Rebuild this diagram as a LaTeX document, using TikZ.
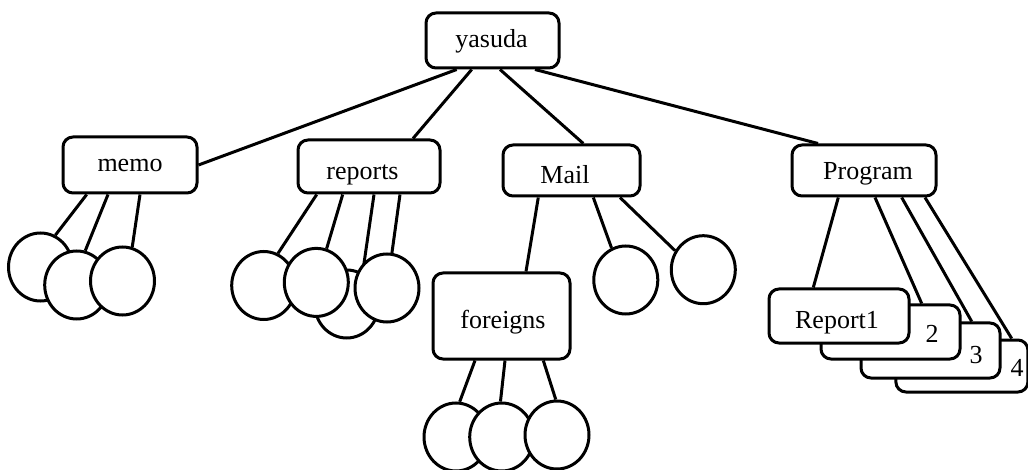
\documentclass[tikz,border=0pt]{standalone}
\usepackage{fontspec}
\setmainfont{Liberation Serif}
\usetikzlibrary{backgrounds,shapes.geometric}
\begin{document}
\begin{tikzpicture}[x=1pt,y=-1pt,
  box/.style={draw,line width=3pt,rounded corners=10pt,fill=white,inner sep=0pt},
  leaf/.style={draw,line width=3pt,ellipse,fill=white,inner sep=0pt,minimum width=64pt,minimum height=68pt},
  conn/.style={line width=3pt},
  txt/.style={inner sep=0pt,anchor=base,font=\fontsize{26}{30}\selectfont}]
\useasboundingbox (0,0) rectangle (1028,470);

% boxes
\node[box,minimum width=133pt,minimum height=55pt] (yasuda) at (492.5,40.5) {};
\node[txt] (yasuda-t) at (491.5,47.5) {yasuda};
\node[box,minimum width=134pt,minimum height=56pt] (memo) at (130,165) {};
\node[txt] (memo-t) at (130,171.7) {memo};
\node[box,minimum width=142pt,minimum height=53pt] (reports) at (369,166.5) {};
\node[txt] (reports-t) at (362.5,180) {reports};
\node[box,minimum width=137pt,minimum height=51pt] (mail) at (571.5,170.5) {};
\node[txt] (mail-t) at (565,184) {Mail};
\node[box,minimum width=144pt,minimum height=51pt] (program) at (864,170.5) {};
\node[txt] (program-t) at (868,179.3) {Program};
\node[box,minimum width=137pt,minimum height=86pt] (foreigns) at (501.5,316) {};
\node[txt] (foreigns-t) at (503,328.3) {foreigns};

% report stack
\node[box,minimum width=132pt,minimum height=52pt] (rep4) at (961.9,366) {};
\node[txt] (n4) at (1017,376.7) {4};
\node[box,minimum width=139pt,minimum height=55pt] (rep3) at (930.5,350.5) {};
\node[txt] (n3) at (976,363.3) {3};
\node[box,minimum width=139pt,minimum height=54pt] (rep2) at (890.5,332) {};
\node[txt] (n2) at (932,342.7) {2};
\node[box,minimum width=140pt,minimum height=54pt] (rep1) at (839,316) {};
\node[txt] (rep1-t) at (837,328.3) {Report1};

% memo leaves
\node[leaf] (m1) at (40.5,267) {};
\node[leaf] (m2) at (76.7,285) {};
\node[leaf] (m3) at (122.5,281) {};

% reports leaves
\node[leaf] (r3) at (346.7,304) {};
\node[leaf] (r1) at (263.7,285.5) {};
\node[leaf] (r2) at (316.3,282.4) {};
\node[leaf] (r4) at (387,288) {};

% mail leaves
\node[leaf] (a1) at (625.8,280) {};
\node[leaf] (a2) at (703.3,269.7) {};

% foreigns leaves
\node[leaf] (f1) at (456,437) {};
\node[leaf] (f2) at (501.7,437) {};
\node[leaf] (f3) at (557,435) {};

\begin{scope}[on background layer]
  % from yasuda
  \draw[conn] ([xshift=-35.8pt]yasuda.south) -- (memo.east);
  \draw[conn] ([xshift=-20.8pt]yasuda.south) -- ([xshift=44pt]reports.north);
  \draw[conn] ([xshift=7.5pt]yasuda.south) -- ([xshift=11.8pt]mail.north);
  \draw[conn] ([xshift=42.5pt]yasuda.south) -- ([xshift=-46pt]program.north);
  % memo
  \draw[conn] ([xshift=-43.3pt]memo.south) -- (m1.65);
  \draw[conn] ([xshift=-22pt]memo.south) -- (m2.76);
  \draw[conn] ([xshift=10pt]memo.south) -- (m3.74);
  % reports
  \draw[conn] ([xshift=-52.3pt]reports.south) -- (r1.66);
  \draw[conn] ([xshift=-26.3pt]reports.south) -- (r2.73);
  \draw[conn] ([xshift=5pt]reports.south) -- (r3.63);
  \draw[conn] ([xshift=31pt]reports.south) -- (r4.82);
  % mail
  \draw[conn] ([xshift=-33.2pt]mail.south) -- ([xshift=24.5pt]foreigns.north);
  \draw[conn] ([xshift=21.8pt]mail.south) -- (a1.114);
  \draw[conn] ([xshift=48.5pt]mail.south) -- (a2.146);
  % foreigns
  \draw[conn] ([xshift=-26.5pt]foreigns.south) -- (f1.84);
  \draw[conn] ([xshift=3.5pt]foreigns.south) -- (f2.92);
  \draw[conn] ([xshift=41.8pt]foreigns.south) -- (f3.92);
  % program
  \draw[conn] ([xshift=-25.7pt]program.south) -- ([xshift=-25.7pt]rep1.north);
  \draw[conn] ([xshift=11pt]program.south) -- ([xshift=31.2pt]rep2.north);
  \draw[conn] ([xshift=37.7pt]program.south) -- ([xshift=41.2pt]rep3.north);
  \draw[conn] ([xshift=61pt]program.south) -- ([xshift=49.8pt]rep4.north);
\end{scope}
\end{tikzpicture}
\end{document}
